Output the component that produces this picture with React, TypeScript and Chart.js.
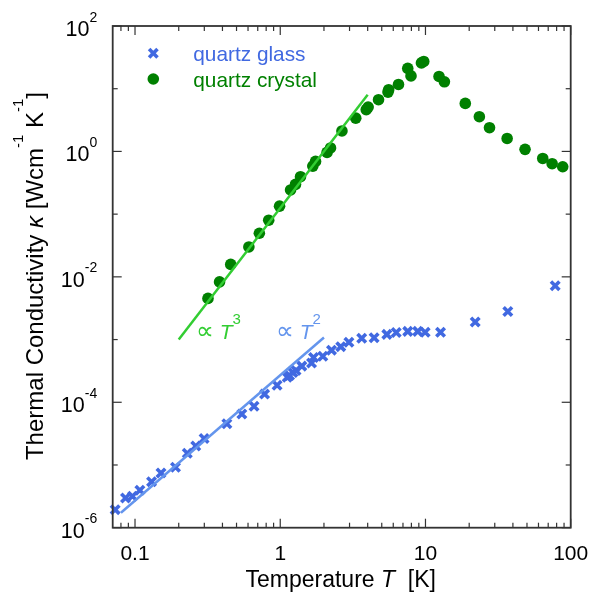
import React, { useEffect, useRef } from 'react';
import { Chart, registerables } from 'chart.js';

Chart.register(...registerables);

// ---- data ----
const glassT = [0.073, 0.086, 0.096, 0.108, 0.130, 0.151, 0.190, 0.229, 0.262, 0.299, 0.429, 0.544, 0.660, 0.780, 0.951, 1.117, 1.159, 1.221, 1.284, 1.408, 1.642, 1.695, 1.964, 2.254, 2.61, 2.97, 3.64, 4.43, 5.42, 6.29, 7.55, 8.85, 9.95, 12.7, 22.0, 36.9, 78.2];
const glassK = [1.94e-6, 2.98e-6, 3.17e-6, 3.95e-6, 5.40e-6, 7.45e-6, 9.19e-6, 1.54e-5, 2.01e-5, 2.65e-5, 4.54e-5, 6.50e-5, 8.67e-5, 1.35e-4, 1.87e-4, 2.51e-4, 2.68e-4, 2.99e-4, 3.22e-4, 3.77e-4, 4.24e-4, 5.18e-4, 5.43e-4, 6.78e-4, 7.71e-4, 9.09e-4, 1.05e-3, 1.07e-3, 1.21e-3, 1.30e-3, 1.35e-3, 1.35e-3, 1.31e-3, 1.31e-3, 1.90e-3, 2.81e-3, 7.21e-3];

const crystalT = [0.318, 0.382, 0.456, 0.608, 0.718, 0.833, 0.989, 1.178, 1.274, 1.379, 1.676, 1.750, 2.10, 2.22, 2.66, 3.31, 3.91, 4.03, 4.75, 5.52, 5.58, 6.52, 7.55, 7.95, 9.38, 9.73, 12.4, 13.5, 18.8, 23.5, 27.6, 36.5, 48.5, 64.2, 74.5, 88.1];
const crystalK = [4.53e-3, 8.3e-3, 1.58e-2, 3.0e-2, 4.96e-2, 8.0e-2, 0.134, 0.243, 0.298, 0.395, 0.583, 0.693, 0.964, 1.137, 2.12, 3.39, 4.64, 5.09, 6.68, 8.83, 9.64, 11.7, 21.1, 16.0, 25.8, 27.2, 15.7, 12.9, 5.83, 3.58, 2.39, 1.61, 1.08, 0.773, 0.637, 0.570];

// power-law guide lines (end points)
const fitCubeT = [0.2, 4.0];
const fitCubeK = [1.0e-3, 8.0];
const fitSquareT = [0.08, 2.0];
const fitSquareK = [1.73e-6, 1.08e-3];

// axes
const xMin = 0.0702;
const xMax = 100;
const yMin = 1e-6;
const yMax = 1e2;
const xMajorTicks = [0.1, 1, 10, 100];
const xTickLabels = ['0.1', '1', '10', '100'];
const xMinorTicks = [0.08, 0.09, 0.2, 0.3, 0.4, 0.5, 0.6, 0.7, 0.8, 0.9, 2, 3, 4, 5, 6, 7, 8, 9, 20, 30, 40, 50, 60, 70, 80, 90];
const yMajorExponents = [-6, -4, -2, 0, 2];
const yMinorExponents = [-5, -3, -1, 1];

const seriesLabels = ['quartz glass', 'quartz crystal'];

const FONT = '"Liberation Sans", Arial, Helvetica, sans-serif';
const AXIS_COLOR = '#333333';
const GLASS_COLOR = '#4169E1';
const CRYSTAL_COLOR = '#008000';
const CUBE_LINE = '#32CD32';
const SQUARE_LINE = '#6495ED';

type Run = { text: string; font: string; dy: number };

function runsWidth(ctx: CanvasRenderingContext2D, runs: Run[]) {
  let w = 0;
  for (const r of runs) {
    ctx.font = r.font;
    w += ctx.measureText(r.text).width;
  }
  return w;
}

function drawRuns(ctx: CanvasRenderingContext2D, runs: Run[], x: number, y: number) {
  let cx = x;
  for (const r of runs) {
    ctx.font = r.font;
    ctx.fillText(r.text, cx, y + r.dy);
    cx += ctx.measureText(r.text).width;
  }
}

const overlay = {
  id: 'overlay',
  afterDraw(chart: any) {
    const ctx: CanvasRenderingContext2D = chart.ctx;
    const a = chart.chartArea;
    const xs = chart.scales.x;
    const ys = chart.scales.y;
    ctx.save();
    ctx.textAlign = 'left';
    ctx.textBaseline = 'alphabetic';

    // frame
    ctx.strokeStyle = AXIS_COLOR;
    ctx.lineWidth = 1.8;
    ctx.strokeRect(a.left, a.top, a.right - a.left, a.bottom - a.top);

    const line = (x1: number, y1: number, x2: number, y2: number) => {
      ctx.beginPath();
      ctx.moveTo(x1, y1);
      ctx.lineTo(x2, y2);
      ctx.stroke();
    };

    ctx.lineWidth = 1.2;
    const vTick = (v: number, len: number) => {
      const px = xs.getPixelForValue(v);
      line(px, a.bottom, px, a.bottom - len);
      line(px, a.top, px, a.top + len);
    };
    const hTick = (v: number, len: number) => {
      const py = ys.getPixelForValue(v);
      line(a.left, py, a.left + len, py);
      line(a.right, py, a.right - len, py);
    };
    xMajorTicks.forEach((v) => vTick(v, 9));
    xMinorTicks.forEach((v) => vTick(v, 5));
    yMajorExponents.forEach((e) => hTick(Math.pow(10, e), 9));
    yMinorExponents.forEach((e) => hTick(Math.pow(10, e), 5));

    // x tick labels
    ctx.fillStyle = '#000';
    ctx.font = `21px ${FONT}`;
    ctx.textAlign = 'center';
    xMajorTicks.forEach((v, i) => {
      ctx.fillText(xTickLabels[i], xs.getPixelForValue(v), a.bottom + 32.5);
    });
    ctx.textAlign = 'left';

    // y tick labels 10^n
    const mainF = `21.5px ${FONT}`;
    const supF = `14px ${FONT}`;
    yMajorExponents.forEach((e) => {
      const py = ys.getPixelForValue(Math.pow(10, e));
      const runs: Run[] = [
        { text: '10', font: mainF, dy: 0 },
        { text: String(e), font: supF, dy: -14.5 },
      ];
      const w = runsWidth(ctx, runs);
      drawRuns(ctx, runs, a.left - 15.5 - w, py + 10);
    });

    // x title
    const tF = `23px ${FONT}`;
    const tFi = `italic 23px ${FONT}`;
    const xRuns: Run[] = [
      { text: 'Temperature ', font: tF, dy: 0 },
      { text: 'T', font: tFi, dy: 0 },
      { text: '  [K]', font: tF, dy: 0 },
    ];
    const xw = runsWidth(ctx, xRuns);
    drawRuns(ctx, xRuns, (a.left + a.right) / 2 - xw / 2 - 1, a.bottom + 59);

    // y title (rotated)
    const yF = `24px ${FONT}`;
    const yFi = `italic 24px ${FONT}`;
    const sF = `15px ${FONT}`;
    const yRuns: Run[] = [
      { text: 'Thermal Conductivity ', font: yF, dy: 0 },
      { text: 'κ', font: yFi, dy: 0 },
      { text: ' [Wcm', font: yF, dy: 0 },
      { text: '-1', font: sF, dy: -20 },
      { text: ' K', font: yF, dy: 0 },
      { text: '-1', font: sF, dy: -20 },
      { text: ']', font: yF, dy: 0 },
    ];
    const yw = runsWidth(ctx, yRuns);
    ctx.save();
    ctx.translate(43.3, 276);
    ctx.rotate(-Math.PI / 2);
    drawRuns(ctx, yRuns, -yw / 2, 0);
    ctx.restore();

    // legend
    const lx = 153.3;
    const ly1 = 53.3;
    const ly2 = 79;
    ctx.strokeStyle = GLASS_COLOR;
    ctx.lineWidth = 3.6;
    const o = 4.2;
    line(lx - o, ly1 - o, lx + o, ly1 + o);
    line(lx - o, ly1 + o, lx + o, ly1 - o);
    ctx.fillStyle = CRYSTAL_COLOR;
    ctx.beginPath();
    ctx.arc(lx, ly2, 5.8, 0, Math.PI * 2);
    ctx.fill();
    ctx.font = `20.8px ${FONT}`;
    ctx.fillStyle = GLASS_COLOR;
    ctx.fillText(seriesLabels[0], 193.3, ly1 + 7.5);
    ctx.fillStyle = CRYSTAL_COLOR;
    ctx.fillText(seriesLabels[1], 193.3, ly2 + 7.5);

    // power-law annotations
    const pF = `25px "DejaVu Sans", ${FONT}`;
    const aF = `21px ${FONT}`;
    const aFi = `italic 21px ${FONT}`;
    const aS = `15px ${FONT}`;
    ctx.fillStyle = CUBE_LINE;
    drawRuns(ctx, [
      { text: '∝', font: pF, dy: 0 },
      { text: ' ', font: aF, dy: 0 },
      { text: 'T', font: aFi, dy: 0 },
      { text: '3', font: aS, dy: -15 },
    ], 196, 339);
    ctx.fillStyle = SQUARE_LINE;
    drawRuns(ctx, [
      { text: '∝', font: pF, dy: 0 },
      { text: ' ', font: aF, dy: 0 },
      { text: 'T', font: aFi, dy: 0 },
      { text: '2', font: aS, dy: -15 },
    ], 276, 338.5);

    ctx.restore();
  },
};

export default function App() {
  const ref = useRef<HTMLCanvasElement | null>(null);

  useEffect(() => {
    document.body.style.margin = '0';
    const canvas = ref.current;
    if (!canvas) return;
    const pts = (xs: number[], ys: number[]) => xs.map((x, i) => ({ x, y: ys[i] }));
    const chart = new Chart(canvas, {
      type: 'scatter',
      data: {
        datasets: [
          {
            label: 'T^3',
            data: pts(fitCubeT, fitCubeK),
            showLine: true,
            pointRadius: 0,
            borderColor: CUBE_LINE,
            borderWidth: 2.5,
            clip: false,
          } as any,
          {
            label: 'T^2',
            data: pts(fitSquareT, fitSquareK),
            showLine: true,
            pointRadius: 0,
            borderColor: SQUARE_LINE,
            borderWidth: 2.5,
            clip: false,
          } as any,
          {
            label: seriesLabels[0],
            data: pts(glassT, glassK),
            pointStyle: 'crossRot',
            pointRadius: 6,
            borderColor: GLASS_COLOR,
            backgroundColor: GLASS_COLOR,
            borderWidth: 3.6,
            clip: false,
          } as any,
          {
            label: seriesLabels[1],
            data: pts(crystalT, crystalK),
            pointStyle: 'circle',
            pointRadius: 5.8,
            borderWidth: 0,
            borderColor: CRYSTAL_COLOR,
            backgroundColor: CRYSTAL_COLOR,
            clip: false,
          } as any,
        ],
      },
      options: {
        animation: false,
        responsive: false,
        devicePixelRatio: 1,
        layout: { padding: { left: 112.7, right: 18.3, top: 26, bottom: 67.3 } },
        plugins: { legend: { display: false }, tooltip: { enabled: false } },
        events: [],
        scales: {
          x: { type: 'logarithmic', min: xMin, max: xMax, display: false },
          y: { type: 'logarithmic', min: yMin, max: yMax, display: false },
        },
      },
      plugins: [overlay],
    });
    return () => chart.destroy();
  }, []);

  return <canvas ref={ref} width={589} height={595} style={{ display: 'block' }} />;
}
